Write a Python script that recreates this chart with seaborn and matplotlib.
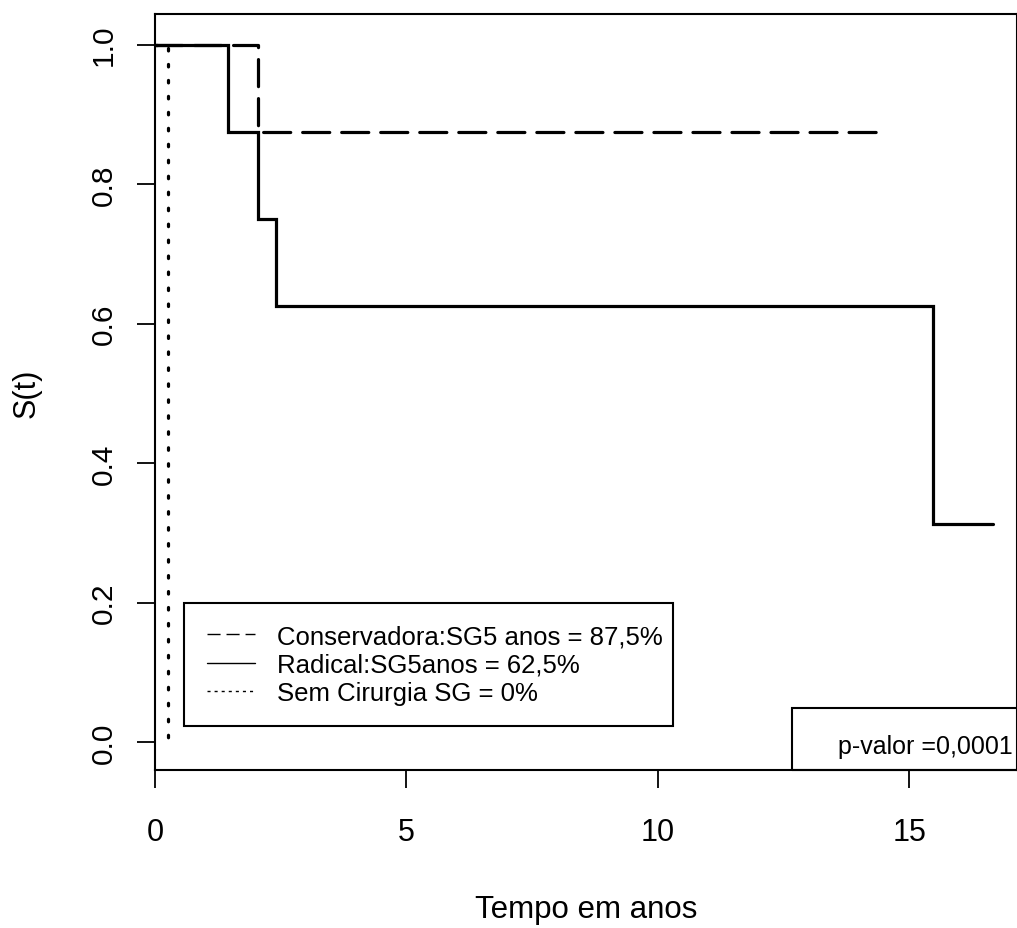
import matplotlib
matplotlib.use("Agg")
import matplotlib.pyplot as plt
import seaborn as sns
import pandas as pd
from matplotlib.lines import Line2D
from matplotlib.patches import Rectangle

# Data (Kaplan-Meier steps)
cons_time = [0.0, 2.05, 14.47]
cons_surv = [1.0, 0.875, 0.875]
rad_time = [0.0, 1.45, 2.05, 2.4, 15.47, 16.66]
rad_surv = [1.0, 0.875, 0.75, 0.625, 0.3125, 0.3125]
sem_time = [0.0, 0.25]
sem_surv = [1.0, 0.0]

legend_labels = ["Conservadora:SG5 anos = 87,5%", "Radical:SG5anos = 62,5%", "Sem Cirurgia SG = 0%"]
pvalue_text = "p-valor =0,0001"
x_ticks = [0, 5, 10, 15]
y_ticks = [0.0, 0.2, 0.4, 0.6, 0.8, 1.0]
y_ticklabels = ["0.0", "0.2", "0.4", "0.6", "0.8", "1.0"]

sns.set_style("white")
plt.rcParams["font.family"] = ["Liberation Sans", "DejaVu Sans"]
plt.rcParams["lines.scale_dashes"] = False
plt.rcParams["text.color"] = "black"
plt.rcParams["axes.labelcolor"] = "black"
plt.rcParams["xtick.color"] = "black"
plt.rcParams["ytick.color"] = "black"

W, H = 1017, 929
fig = plt.figure(figsize=(W / 100, H / 100), dpi=100)
ax = fig.add_axes([155 / W, 158 / H, 862 / W, 756 / H])
AW, AH = 862.0, 756.0

fs_tick = 22.0
fs_lab = 22.5
fs_leg = 18.5
lw = 2.3
dash_style = (0, (19.5, 8.6))
dot_style = (0, (1.8, 9.7))

df_c = pd.DataFrame({"t": cons_time, "s": cons_surv})
df_r = pd.DataFrame({"t": rad_time, "s": rad_surv})
df_s = pd.DataFrame({"t": sem_time, "s": sem_surv})

sns.lineplot(data=df_c, x="t", y="s", ax=ax, estimator=None, sort=False,
             drawstyle="steps-post", color="black", lw=lw, linestyle=dash_style,
             dash_capstyle="round")
sns.lineplot(data=df_r, x="t", y="s", ax=ax, estimator=None, sort=False,
             drawstyle="steps-post", color="black", lw=lw, linestyle="-",
             solid_joinstyle="miter")
sns.lineplot(data=df_s, x="t", y="s", ax=ax, estimator=None, sort=False,
             drawstyle="steps-post", color="black", lw=lw, linestyle=dot_style,
             dash_capstyle="round")

ax.set_xlim(0, 17.14)
ax.set_ylim(-0.04, 1.044)
ax.set_xticks(x_ticks)
ax.set_xticklabels([str(v) for v in x_ticks])
ax.set_yticks(y_ticks)
ax.set_yticklabels(y_ticklabels, rotation=90, va="center")
ax.tick_params(axis="both", direction="out", length=13, width=1.3,
               color="black", labelcolor="black", left=True, bottom=True)
ax.tick_params(axis="x", pad=21, labelsize=fs_tick)
ax.tick_params(axis="y", pad=14, labelsize=fs_tick * 0.98)
for sp in ax.spines.values():
    sp.set_visible(True)
    sp.set_color("black")
    sp.set_linewidth(1.5)

ax.set_xlabel("Tempo em anos", fontsize=fs_lab, color="black")
ax.xaxis.set_label_coords(0.5, -(897 - 771 - 2) / AH)
ax.xaxis.label.set_va("top")
ax.set_ylabel("S(t)", fontsize=fs_tick, color="black")
ax.yaxis.set_label_coords(-(155 - 27) / AW, 0.5)
ax.yaxis.label.set_va("center")

# Legend (frame drawn separately)
handles = [
    Line2D([0], [0], color="black", lw=1.0, linestyle=(0, (9.4, 4.3))),
    Line2D([0], [0], color="black", lw=1.0, linestyle="-"),
    Line2D([0], [0], color="black", lw=1.0, linestyle=(0, (2.2, 2.9))),
]
leg = ax.legend(handles, legend_labels, loc="upper left",
                bbox_to_anchor=((207 - 155) / AW, (771 - 625) / AH),
                fontsize=fs_leg, frameon=False, handlelength=1.87,
                handletextpad=0.86, labelspacing=0.175, borderpad=0.0,
                borderaxespad=0, labelcolor="black")
ax.add_patch(Rectangle(((184 - 155) / AW, (771 - 727) / AH), (673 - 184) / AW,
                       (727 - 604) / AH, transform=ax.transAxes, fill=True,
                       facecolor="white", edgecolor="black", lw=1.5, zorder=4))
leg.set_zorder(5)

# p-value box
ax.add_patch(Rectangle(((792 - 155) / AW, 0), 0.4, (771 - 709) / AH,
                       transform=ax.transAxes, fill=False, edgecolor="black",
                       lw=1.5, clip_on=False))
ax.text((925 - 155) / AW, (771 - 747) / AH, pvalue_text, transform=ax.transAxes,
        fontsize=18.0, ha="center", va="center", color="black")

fig.savefig("out.png", dpi=100)
